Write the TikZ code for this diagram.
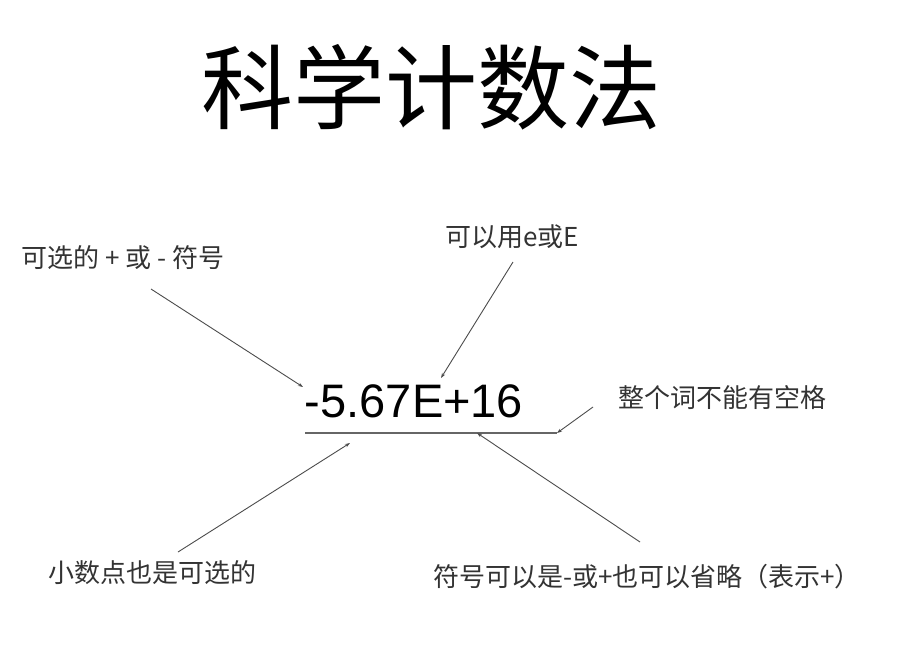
\documentclass[tikz,border=0pt]{standalone}
\usepackage{fontspec}
\setmainfont{Liberation Sans}
\newfontfamily\cjk{Noto Sans CJK SC}
\usetikzlibrary{arrows.meta}
\begin{document}
\begin{tikzpicture}[x=1pt,y=-1pt,
  note/.style={inner sep=0pt,font=\cjk\fontsize{26}{30}\selectfont,text=black!80},
  pointer/.style={draw=black!70,line width=0.9pt,-{Stealth[length=5pt,width=3.5pt]}},
  rule/.style={draw=black!60,line width=1.3pt}]
  \useasboundingbox[fill=white] (0,0) rectangle (921,665);

  % title
  \node[inner sep=0pt,font=\cjk\fontsize{92}{100}\selectfont] (title) at (431,87) {科学计数法};

  % the number and its underline
  \node[inner sep=0pt,anchor=base,font=\fontsize{47}{50}\selectfont] (num) at (414,417) {-5.67E+16};
  \coordinate (ulL) at (305,433);
  \coordinate (ulR) at (557,433);
  \draw[rule] (ulL) -- (ulR);

  % notes
  \node[note] (sign) at (123,258) {可选的 + 或 - 符号};
  \node[note] (expo) at (512,237) {可以用e或E};
  \node[note] (space) at (722,398) {整个词不能有空格};
  \node[note] (point) at (152,573) {小数点也是可选的};
  \node[note] (esign) at (647,577) {符号可以是-或+也可以省略（表示+）};

  % pointer ends
  \coordinate (signA) at (151,289);
  \coordinate (signB) at (303,387);
  \coordinate (expoA) at (513,262);
  \coordinate (expoB) at (441,378);
  \coordinate (spaceA) at (593,407);
  \coordinate (pointA) at (178,552);
  \coordinate (pointB) at (350,443);
  \coordinate (esignA) at (640,542);
  \coordinate (esignB) at (477,433);

  \draw[pointer] (signA) -- (signB);
  \draw[pointer] (expoA) -- (expoB);
  \draw[pointer] (spaceA) -- (ulR);
  \draw[pointer] (pointA) -- (pointB);
  \draw[pointer] (esignA) -- (esignB);
\end{tikzpicture}
\end{document}
